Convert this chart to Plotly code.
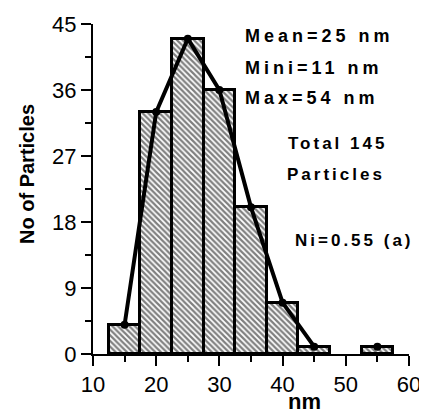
import plotly.graph_objects as go

# Histogram data (bin centres in nm, counts)
bin_centres = [15, 20, 25, 30, 35, 40, 45, 55]
counts = [4, 33, 43, 36, 20, 7, 1, 1]

# Frequency polygon
line_x = [15, 20, 25, 30, 35, 40, 45]
line_y = [4, 33, 43, 36, 20, 7, 1]
lone_x = [55]
lone_y = [1]

x_ticks = [10, 20, 30, 40, 50, 60]
y_ticks = [0, 9, 18, 27, 36, 45]

FONT = "Liberation Sans, Arial, sans-serif"

fig = go.Figure()
fig.add_trace(go.Bar(
    x=bin_centres, y=counts, width=5,
    marker=dict(color="white",
                line=dict(color="black", width=3),
                pattern=dict(shape="\\", size=4, solidity=0.55,
                             fgcolor="black", bgcolor="white")),
    showlegend=False,
))
fig.add_trace(go.Scatter(
    x=line_x, y=line_y, mode="lines+markers",
    line=dict(color="black", width=4),
    marker=dict(color="black", size=8),
    showlegend=False, cliponaxis=False,
))
fig.add_trace(go.Scatter(
    x=lone_x, y=lone_y, mode="markers",
    marker=dict(color="black", size=8),
    showlegend=False, cliponaxis=False,
))

axis_common = dict(
    showgrid=False, zeroline=False, showline=True, linecolor="black",
    linewidth=2, ticks="outside", ticklen=10, tickwidth=2, tickcolor="black",
    tickfont=dict(family=FONT, size=22, color="black"),
)
fig.update_xaxes(range=[10, 60], tickvals=x_ticks,
                 minor=dict(ticks="outside", ticklen=6, tickwidth=2,
                            tickcolor="black", dtick=5, tick0=10),
                 **axis_common)
fig.update_yaxes(range=[0, 45], tickvals=y_ticks,
                 minor=dict(ticks="outside", ticklen=6, tickwidth=2,
                            tickcolor="black", dtick=4.5, tick0=0),
                 **axis_common)

def sp(txt, ls):
    return f'<span style="letter-spacing:{ls}px"><b>{txt}</b></span>'

# plot area in page pixels: x 93..409, y 24..354
PL, PR, PT, PB = 93, 409, 24, 354
PW, PH = PR - PL, PB - PT

def px(x):
    return (x - PL) / PW

def py(y):
    return (PB - y) / PH

notes = [
    ("Mean=25 nm", 243, 36, 18, 4),
    ("Mini=11 nm", 243, 68, 18, 4),
    ("Max=54 nm", 243, 98, 18, 4),
    ("Total 145", 286, 143, 17, 3),
    ("Particles", 285, 175, 17, 3),
    ("Ni=0.55 (a)", 293, 240, 17, 3),
]
anns = []
for txt, x, y, s, ls in notes:
    anns.append(dict(text=sp(txt, ls), xref="paper", yref="paper",
                     x=px(x), y=py(y),
                     xanchor="left", yanchor="middle", showarrow=False,
                     font=dict(family=FONT, size=s, color="black")))
anns.append(dict(text="<b>No of Particles</b>", xref="paper", yref="paper",
                 x=px(27), y=py(174), textangle=-90,
                 xanchor="center", yanchor="middle", showarrow=False,
                 font=dict(family=FONT, size=20, color="black")))
anns.append(dict(text="<b>nm</b>", xref="paper", yref="paper",
                 x=px(304), y=py(401),
                 xanchor="center", yanchor="middle", showarrow=False,
                 font=dict(family=FONT, size=22, color="black")))

# page body has an 8px margin, so the figure starts at (8, 8)
OFF = 8
W, H = 427 - OFF, 414 - OFF
fig.update_layout(
    width=W, height=H,
    margin=dict(l=PL - OFF, r=W - (PR - OFF), t=PT - OFF, b=H - (PB - OFF),
                autoexpand=False),
    plot_bgcolor="white", paper_bgcolor="white",
    bargap=0, annotations=anns,
)
fig.write_html("out.html")
